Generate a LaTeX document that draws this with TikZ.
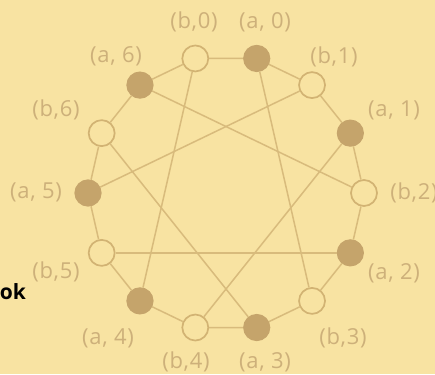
\documentclass[tikz,border=0pt]{standalone}
\usepackage{xcolor}
\usepackage{fontspec}
\setmainfont{Open Sans}
\newfontfamily\lblfont[LetterSpace=3]{Open Sans}
\usepackage{tikz}
\usetikzlibrary{positioning}
\definecolor{paper}{HTML}{F8E3A2}
\definecolor{tan}{HTML}{C5A46B}
\definecolor{rim}{HTML}{D2B373}
\definecolor{wire}{HTML}{D8BB7C}
\definecolor{lbltan}{HTML}{CDB07A}
\tikzset{
  anode/.style ={circle, fill=tan, draw=tan, line width=1.2pt, minimum size=26pt, inner sep=0pt},
  bnode/.style ={circle, fill=paper, draw=rim, line width=1.7pt, minimum size=26pt, inner sep=0pt},
  wedge/.style ={draw=wire, line width=1.5pt},
  lbl/.style   ={text=lbltan, font=\lblfont\fontsize{22}{24}\selectfont, inner sep=0pt},
}

\begin{document}
\begin{tikzpicture}[x=1pt, y=1pt]
  \fill[paper] (0,0) rectangle (435,374);
  \useasboundingbox (0,0) rectangle (435,374);

  % Ring of 14 vertices, centre (226,181)
  \begin{scope}[shift={(226,181)}]
    \node[bnode] (b0) at (102.86:138) {};
    \node[anode] (a0) at (77.14:138)  {};
    \node[bnode] (b1) at (51.43:138)  {};
    \node[anode] (a1) at (25.71:138)  {};
    \node[bnode] (b2) at (0:138)      {};
    \node[anode] (a2) at (-25.71:138) {};
    \node[bnode] (b3) at (-51.43:138) {};
    \node[anode] (a3) at (-77.14:138) {};
    \node[bnode] (b4) at (-102.86:138){};
    \node[anode] (a4) at (-128.57:138){};
    \node[bnode] (b5) at (-154.29:138){};
    \node[anode] (a5) at (180:138)    {};
    \node[bnode] (b6) at (154.29:138) {};
    \node[anode] (a6) at (128.57:138) {};
  \end{scope}

  % Outer cycle
  \draw[wedge] (b0) -- (a0) -- (b1) -- (a1) -- (b2) -- (a2) -- (b3) -- (a3)
               -- (b4) -- (a4) -- (b5) -- (a5) -- (b6) -- (a6) -- (b0);

  % Chords
  \draw[wedge] (a0) -- (b3);
  \draw[wedge] (a1) -- (b4);
  \draw[wedge] (a2) -- (b5);
  \draw[wedge] (a3) -- (b6);
  \draw[wedge] (a4) -- (b0);
  \draw[wedge] (a5) -- (b1);
  \draw[wedge] (a6) -- (b2);

  % Labels
  \node[lbl] (lb0) at (194,352) {(b,0)};
  \node[lbl] (la0) at (265,352) {(a, 0)};
  \node[lbl] (la6) at (116,318) {(a, 6)};
  \node[lbl] (lb1) at (334,317) {(b,1)};
  \node[lbl] (lb6) at (56,264)  {(b,6)};
  \node[lbl] (la1) at (394,264) {(a, 1)};
  \node[lbl] (la5) at (36,182)  {(a, 5)};
  \node[lbl] (lb2) at (414,181) {(b,2)};
  \node[lbl] (lb5) at (56,102)  {(b,5)};
  \node[lbl] (la2) at (394,101) {(a, 2)};
  \node[lbl] (la4) at (108,36)  {(a, 4)};
  \node[lbl] (lb3) at (343,36)  {(b,3)};
  \node[lbl] (lb4) at (186,12)  {(b,4)};
  \node[lbl] (la3) at (265,12)  {(a, 3)};

  % cut-off word at the left edge
  \node[anchor=east, inner sep=0pt, font=\bfseries\fontsize{21}{23}\selectfont] (ok) at (26,82) {ok};
\end{tikzpicture}
\end{document}
